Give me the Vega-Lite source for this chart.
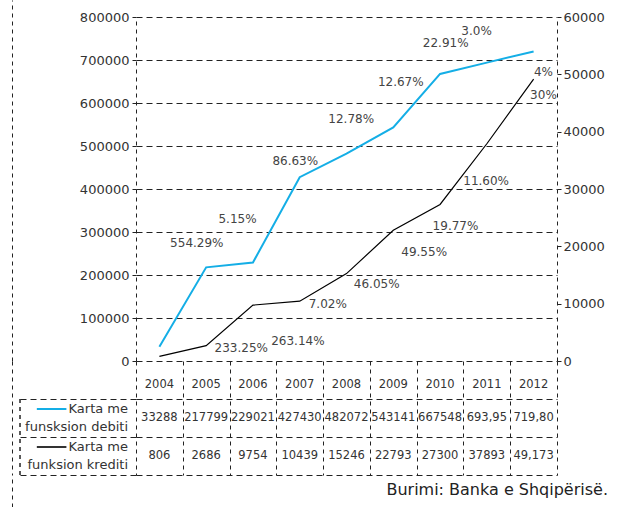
{
  "$schema": "https://vega.github.io/schema/vega-lite/v6.json",
  "padding": {"left": 12, "top": 0, "right": 0, "bottom": 0},
  "background": "white",
  "columns": 3,
  "spacing": 0,
  "bounds": "flush",
  "align": "each",
  "config": {
    "view": {"stroke": null},
    "font": "DejaVu Sans",
    "text": {"font": "DejaVu Sans", "color": "#333"}
  },
  "datasets": {
    "main": [
      {"year": 2004, "debit": 33288, "debitText": "33288", "credit": 806, "creditText": "806"},
      {"year": 2005, "debit": 217799, "debitText": "217799", "credit": 2686, "creditText": "2686"},
      {"year": 2006, "debit": 229021, "debitText": "229021", "credit": 9754, "creditText": "9754"},
      {"year": 2007, "debit": 427430, "debitText": "427430", "credit": 10439, "creditText": "10439"},
      {"year": 2008, "debit": 482072, "debitText": "482072", "credit": 15246, "creditText": "15246"},
      {"year": 2009, "debit": 543141, "debitText": "543141", "credit": 22793, "creditText": "22793"},
      {"year": 2010, "debit": 667548, "debitText": "667548", "credit": 27300, "creditText": "27300"},
      {"year": 2011, "debit": 693950, "debitText": "693,95", "credit": 37893, "creditText": "37893"},
      {"year": 2012, "debit": 719800, "debitText": "719,80", "credit": 49173, "creditText": "49,173"}
    ],
    "debitLabels": [
      {"x": 2004.80, "y": 273700, "text": "554.29%"},
      {"x": 2005.67, "y": 329500, "text": "5.15%"},
      {"x": 2006.905, "y": 465800, "text": "86.63%"},
      {"x": 2008.10, "y": 562800, "text": "12.78%"},
      {"x": 2009.16, "y": 649600, "text": "12.67%"},
      {"x": 2010.12, "y": 740300, "text": "22.91%"},
      {"x": 2010.78, "y": 768200, "text": "3.0%"}
    ],
    "creditLabels": [
      {"x": 2005.75, "y": 2215, "text": "233.25%"},
      {"x": 2006.96, "y": 3540, "text": "263.14%"},
      {"x": 2007.60, "y": 9942, "text": "7.02%"},
      {"x": 2008.645, "y": 13430, "text": "46.05%"},
      {"x": 2009.66, "y": 18960, "text": "49.55%"},
      {"x": 2010.33, "y": 23550, "text": "19.77%"},
      {"x": 2010.985, "y": 31450, "text": "11.60%"},
      {"x": 2012.21, "y": 46400, "text": "30%"},
      {"x": 2012.21, "y": 50460, "text": "4%"}
    ],
    "legend": [
      {"row": "debit", "series": "debit", "l1": "Karta me", "l2": "funsksion debiti"},
      {"row": "credit", "series": "credit", "l1": "Karta me", "l2": "funksion krediti"}
    ],
    "footer": [{"text": "Burimi: Banka e Shqipërisë."}]
  },
  "concat": [
    {"width": 116, "height": 17, "data": {"values": [{"v": 0}]}, "mark": {"type": "point", "opacity": 0},
     "encoding": {"y": {"field": "v", "type": "quantitative", "scale": {"domain": [0, 1]}, "axis": {"orient": "left", "offset": 8, "labels": false, "ticks": false, "grid": false, "title": null, "domainDash": [4, 4], "domainColor": "#222"}}}},
    {"width": 421, "height": 17, "data": {"values": []}, "mark": "point"},
    {"width": 57, "height": 17, "data": {"values": [{"v": 0}]}, "mark": {"type": "point", "opacity": 0},
     "encoding": {"y": {"field": "v", "type": "quantitative", "scale": {"domain": [0, 1]}, "axis": {"orient": "right", "labels": false, "ticks": false, "grid": false, "title": null, "domainDash": [4, 4], "domainColor": "#222"}}}},

    {"width": 116, "height": 344, "data": {"values": [{"v": 0}]}, "mark": {"type": "point", "opacity": 0},
     "encoding": {"y": {"field": "v", "type": "quantitative", "scale": {"domain": [0, 1]}, "axis": {"orient": "left", "offset": 8, "labels": false, "ticks": false, "grid": false, "title": null, "domainDash": [4, 4], "domainColor": "#222"}}}},
    {
      "width": 421, "height": 344,
      "layer": [
        {
          "layer": [
            {"data": {"name": "main"}, "mark": {"type": "line", "color": "#14aee6", "strokeWidth": 2},
             "encoding": {
               "x": {"field": "year", "type": "quantitative", "scale": {"domain": [2003.5, 2012.5], "nice": false, "zero": false}, "axis": null},
               "y": {"field": "debit", "type": "quantitative", "scale": {"domain": [0, 800000], "nice": false},
                     "axis": {"orient": "left", "values": [0, 100000, 200000, 300000, 400000, 500000, 600000, 700000, 800000], "format": "d", "title": null,
                              "grid": true, "gridDash": [6, 4], "gridColor": "#222", "gridOpacity": 1,
                              "domain": true, "domainDash": [4, 4], "domainColor": "#222",
                              "tickSize": 4, "tickColor": "#222", "labelFontSize": 13, "labelColor": "#333", "labelPadding": 3, "labelFont": "DejaVu Sans"}}
             }},
            {"data": {"name": "debitLabels"}, "mark": {"type": "text", "fontSize": 12, "color": "#444"},
             "encoding": {
               "x": {"field": "x", "type": "quantitative"},
               "y": {"field": "y", "type": "quantitative"},
               "text": {"field": "text", "type": "nominal"}
             }}
          ]
        },
        {
          "layer": [
            {"data": {"name": "main"}, "mark": {"type": "line", "color": "#000", "strokeWidth": 1.2},
             "encoding": {
               "x": {"field": "year", "type": "quantitative"},
               "y": {"field": "credit", "type": "quantitative", "scale": {"domain": [0, 60000], "nice": false},
                     "axis": {"orient": "right", "values": [0, 10000, 20000, 30000, 40000, 50000, 60000], "format": "d", "title": null,
                              "grid": false, "domain": true, "domainDash": [4, 4], "domainColor": "#222",
                              "tickSize": 4, "tickColor": "#222", "labelFontSize": 13, "labelColor": "#333", "labelPadding": 2, "labelFont": "DejaVu Sans"}}
             }},
            {"data": {"name": "creditLabels"}, "mark": {"type": "text", "fontSize": 12, "color": "#444"},
             "encoding": {
               "x": {"field": "x", "type": "quantitative"},
               "y": {"field": "y", "type": "quantitative"},
               "text": {"field": "text", "type": "nominal"}
             }}
          ]
        }
      ],
      "resolve": {"scale": {"y": "independent"}}
    },
    {"width": 57, "height": 344, "data": {"values": [{"v": 0}]}, "mark": {"type": "point", "opacity": 0},
     "encoding": {"y": {"field": "v", "type": "quantitative", "scale": {"domain": [0, 1]}, "axis": {"orient": "right", "labels": false, "ticks": false, "grid": false, "title": null, "domainDash": [4, 4], "domainColor": "#222"}}}},

    {
      "width": 116, "height": 114,
      "data": {"name": "legend"},
      "layer": [
        {
          "encoding": {
            "y": {"field": "row", "type": "nominal", "scale": {"type": "band", "domain": ["Year", "debit", "credit"], "paddingInner": 0, "paddingOuter": 0},
                  "axis": {"orient": "left", "offset": 8, "values": ["debit", "credit"], "tickBand": "extent", "grid": true, "gridDash": [6, 4], "gridColor": "#222", "gridOpacity": 1,
                           "labels": false, "ticks": false, "domain": true, "domainDash": [4, 4], "domainColor": "#222", "title": null}}
          },
          "layer": [
            {"mark": {"type": "rule", "strokeWidth": 2, "yOffset": -9},
             "encoding": {
               "x": {"datum": 0.145, "type": "quantitative", "scale": {"domain": [0, 1]}, "axis": null},
               "x2": {"datum": 0.4},
               "color": {"field": "series", "type": "nominal", "scale": {"domain": ["debit", "credit"], "range": ["#14aee6", "#333"]}, "legend": null}
             }},
            {"mark": {"type": "text", "align": "right", "baseline": "middle", "dx": -8, "dy": -9, "fontSize": 13, "color": "#333"},
             "encoding": {"x": {"datum": 1, "type": "quantitative"}, "text": {"field": "l1", "type": "nominal"}}},
            {"mark": {"type": "text", "align": "right", "baseline": "middle", "dx": -8, "dy": 9, "fontSize": 13, "color": "#333"},
             "encoding": {"x": {"datum": 1, "type": "quantitative"}, "text": {"field": "l2", "type": "nominal"}}}
          ]
        },
        {"mark": {"type": "rule", "strokeDash": [4, 4], "color": "#222"},
         "encoding": {
           "x": {"datum": 0, "type": "quantitative"},
           "y": {"datum": 0, "type": "quantitative", "scale": {"domain": [0, 3]}, "axis": null},
           "y2": {"datum": 2}
         }}
      ],
      "resolve": {"scale": {"y": "independent"}}
    },
    {
      "width": 421, "height": 114,
      "data": {"name": "main"},
      "encoding": {
        "x": {"field": "year", "type": "quantitative", "scale": {"domain": [2003.5, 2012.5], "nice": false, "zero": false},
              "axis": {"orient": "top", "values": [2003.5, 2004.5, 2005.5, 2006.5, 2007.5, 2008.5, 2009.5, 2010.5, 2011.5, 2012.5],
                       "grid": true, "gridDash": [4, 4], "gridColor": "#222", "gridOpacity": 1, "labels": false, "ticks": false, "domain": false, "title": null}}
      },
      "layer": [
        {"mark": {"type": "text", "fontSize": 11.5, "dy": 5, "color": "#333"},
         "encoding": {
           "y": {"datum": "Year", "type": "nominal", "scale": {"type": "band", "domain": ["Year", "debit", "credit"], "paddingInner": 0, "paddingOuter": 0},
                 "axis": {"values": ["debit", "credit"], "tickBand": "extent", "grid": true, "gridDash": [6, 4], "gridColor": "#222", "gridOpacity": 1,
                          "labels": false, "ticks": false, "domain": false, "title": null}},
           "text": {"field": "year", "type": "ordinal"}
         }},
        {"mark": {"type": "text", "fontSize": 11.5, "color": "#333"},
         "encoding": {"y": {"datum": "debit", "type": "nominal"}, "text": {"field": "debitText", "type": "nominal"}}},
        {"mark": {"type": "text", "fontSize": 11.5, "color": "#333"},
         "encoding": {"y": {"datum": "credit", "type": "nominal"}, "text": {"field": "creditText", "type": "nominal"}}}
      ]
    },
    {"width": 57, "height": 114, "data": {"values": [{"v": 0}]}, "mark": {"type": "point", "opacity": 0},
     "encoding": {"y": {"field": "v", "type": "quantitative", "scale": {"domain": [0, 1]}, "axis": {"orient": "right", "labels": false, "ticks": false, "grid": false, "title": null, "domainDash": [4, 4], "domainColor": "#222"}}}},

    {"width": 116, "height": 32, "data": {"values": [{"v": 0}]}, "mark": {"type": "point", "opacity": 0},
     "encoding": {"y": {"field": "v", "type": "quantitative", "scale": {"domain": [0, 1]}, "axis": {"orient": "left", "offset": 8, "labels": false, "ticks": false, "grid": false, "title": null, "domainDash": [4, 4], "domainColor": "#222"}}}},
    {"width": 421, "height": 32, "data": {"values": []}, "mark": "point"},
    {
      "width": 57, "height": 32,
      "data": {"name": "footer"},
      "layer": [
        {"mark": {"type": "point", "opacity": 0},
         "encoding": {"y": {"datum": 0, "type": "quantitative", "scale": {"domain": [0, 1]}, "axis": {"orient": "right", "labels": false, "ticks": false, "grid": false, "title": null, "domainDash": [4, 4], "domainColor": "#222"}}}},
        {"mark": {"type": "text", "align": "right", "baseline": "alphabetic", "dx": -6, "dy": -12, "fontSize": 16, "color": "#222"},
         "encoding": {"x": {"value": "width"}, "y": {"datum": 0, "type": "quantitative"}, "text": {"field": "text", "type": "nominal"}}}
      ]
    }
  ]
}
